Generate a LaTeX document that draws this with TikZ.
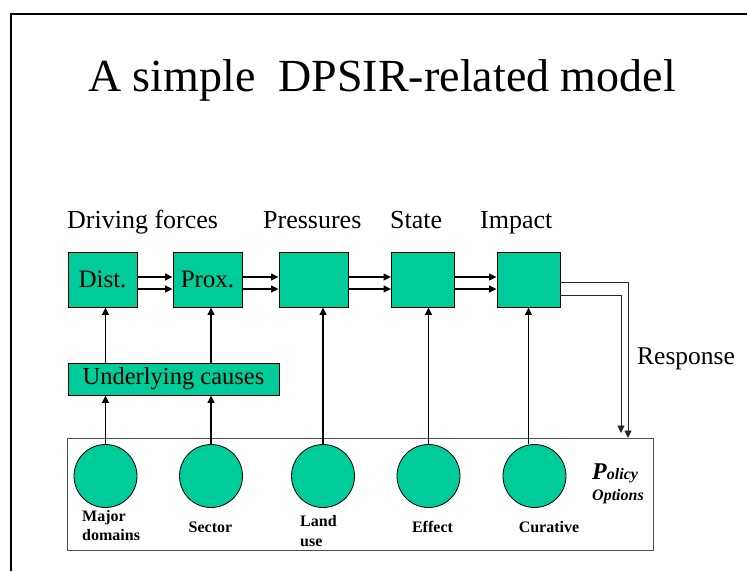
\documentclass[tikz,border=0pt]{standalone}
\usepackage{fontspec}
\setmainfont{Liberation Serif}
\usetikzlibrary{arrows.meta,positioning}

\definecolor{dpsirgreen}{RGB}{0,204,153}

\tikzset{
  stage/.style={draw=black, line width=0.9pt, fill=dpsirgreen, minimum height=55pt, inner sep=0pt,
    font=\fontsize{25}{28}\selectfont},
  wide/.style={stage, minimum width=69pt},
  narrow/.style={stage, minimum width=63pt},
  option/.style={circle, draw=black, line width=0.8pt, fill=dpsirgreen, minimum size=63pt, inner sep=0pt},
  heading/.style={anchor=base west, inner sep=0pt, font=\fontsize{26}{30}\selectfont},
  small/.style={inner sep=0pt, font=\fontsize{16}{19}\selectfont\bfseries},
  arr/.style={line width=1.3pt, -{Triangle[length=7.5pt,width=7pt]}},
  resp/.style={line width=0.9pt, black!85, -{Triangle[length=7.5pt,width=7pt]}}
}

\begin{document}
\begin{tikzpicture}[x=1pt,y=-1pt]
\useasboundingbox (0,0) rectangle (747,571);

% slide frame
\draw[line width=2pt] (10.5,571) -- (10.5,14) -- (747,14);

% title
\node[anchor=base west, inner sep=0pt, font=\fontsize{46}{50}\selectfont] (title) at (88,91.7) {A simple\ \ DPSIR-related model};

% column headings
\node[heading] (hdrive) at (67,228) {Driving forces};
\node[heading] (hpress) at (263,228) {Pressures};
\node[heading] (hstate) at (390,228) {State};
\node[heading] (himpact) at (480,228) {Impact};

% DPSIR chain
\node[wide] (dist) at (102.5,279.5) {Dist.};
\node[wide] (prox) at (207.5,279.5) {Prox.};
\node[wide] (pres) at (313.5,279.5) {};
\node[narrow] (state) at (423,279.5) {};
\node[narrow] (impact) at (528.5,279.5) {};

\node[draw=black, line width=0.9pt, fill=dpsirgreen, minimum width=211pt, minimum height=32pt, inner sep=0pt,
      font=\fontsize{24.5}{28}\selectfont] (under) at (173.5,379) {Underlying causes};

% policy options panel
\node[draw=black!70, line width=0.8pt, minimum width=586pt, minimum height=112pt, inner sep=0pt] (policy) at (360,494) {};

\node[option] (c1) at (105.5,476) {};
\node[option] (c2) at (211,476) {};
\node[option] (c3) at (323,476) {};
\node[option] (c4) at (428.5,476) {};
\node[option] (c5) at (534.5,476) {};

% option labels (base anchor of a two-line node sits on its last line)
\node[small, anchor=base west, align=left] (lmajor) at (82,540.7) {Major\\domains};
\node[small, anchor=base] (lsector) at (210.5,532.7) {Sector};
\node[small, anchor=base west, align=left, font=\fontsize{16}{20}\selectfont\bfseries] (lland) at (300,546.7) {Land\\use};
\node[small, anchor=base] (leffect) at (432.5,532.7) {Effect};
\node[small, anchor=base] (lcur) at (549,532.7) {Curative};

\node[anchor=base west, inner sep=0pt, font=\bfseries\itshape] (lpolicy) at (592,479)
  {{\fontsize{24}{26}\selectfont P}{\fontsize{16}{19}\selectfont olicy}};
\node[anchor=base west, inner sep=0pt, font=\fontsize{16}{19}\selectfont\bfseries\itshape] (loptions) at (592,500.7) {Options};

% flows along the chain
\foreach \a/\b in {dist/prox, prox/pres, pres/state, state/impact}{
  \draw[arr] ([yshift=2.5pt]\a.east) -- ([yshift=2.5pt]\b.west);
  \draw[arr] ([yshift=-9.5pt]\a.east) -- ([yshift=-9.5pt]\b.west);
}

% influences from the option circles
\draw[arr] (c1.north) -- (c1.north |- under.south);
\draw[arr] (c2.north) -- (c2.north |- under.south);
\draw[arr] (c1.north |- under.north) -- (c1.north |- dist.south);
\draw[arr] (c2.north |- under.north) -- (c2.north |- prox.south);
\draw[arr] (c3.north) -- (c3.north |- pres.south);
\draw[arr] (c4.north) -- (c4.north |- state.south);
\draw[arr] (impact.south |- c5.north) -- (impact.south);

% response feedback
\coordinate (rout) at (628,438);
\coordinate (rin) at (621,433);
\draw[resp] ([yshift=-3.2pt]impact.east) -| (rout);
\draw[resp] ([yshift=-15.5pt]impact.east) -| (rin);
\node[anchor=base west, inner sep=0pt, font=\fontsize{25.5}{28}\selectfont] (lresp) at (637,364) {Response};

\end{tikzpicture}
\end{document}
